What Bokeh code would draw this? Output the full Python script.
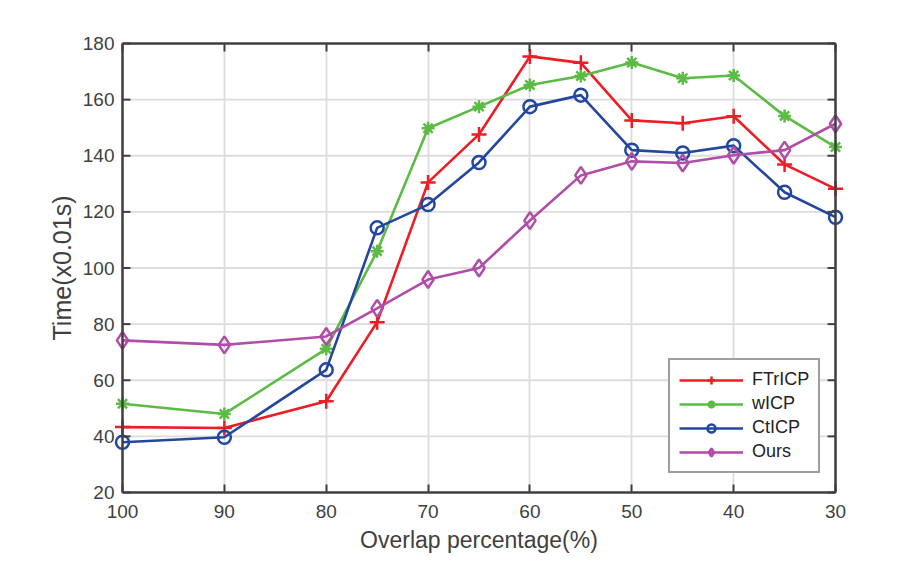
import math
from bokeh.plotting import figure
from bokeh.models import Range1d, FixedTicker, LinearAxis, Legend, LegendItem
from bokeh.embed import file_html
from bokeh.resources import INLINE

# ---- data ----
overlap = [100, 90, 80, 75, 70, 65, 60, 55, 50, 45, 40, 35, 30]
ftricp = [43.3, 43.0, 52.5, 80.7, 130.5, 147.6, 175.4, 173.1, 152.6, 151.6, 154.1, 136.9, 128.2]
wicp = [51.6, 48.0, 71.2, 106.0, 149.8, 157.5, 165.2, 168.4, 173.2, 167.6, 168.6, 154.2, 143.1]
cticp = [37.9, 39.7, 63.7, 114.3, 122.6, 137.6, 157.5, 161.6, 142.0, 141.0, 143.6, 127.0, 118.1]
ours = [74.2, 72.6, 75.6, 85.6, 95.9, 100.0, 116.9, 133.0, 138.0, 137.4, 140.2, 142.0, 151.4]
x_ticks = [30, 40, 50, 60, 70, 80, 90, 100]
y_ticks = [20, 40, 60, 80, 100, 120, 140, 160, 180]
series_names = ["FTrICP", "wICP", "CtICP", "Ours"]

X_MIN, X_MAX = 30, 100
Y_MIN, Y_MAX = 20, 180

FONT = "Liberation Sans"
AX = "#404040"
PAD_PX = 9                      # extra room so edge markers are not clipped
FRAME_W = 923 - 122 - 88
pad_units = PAD_PX * (X_MAX - X_MIN) / FRAME_W

p = figure(width=923, height=567, output_backend="svg", toolbar_location=None,
           x_range=Range1d(X_MAX + pad_units, X_MIN - pad_units),
           y_range=Range1d(Y_MIN, Y_MAX),
           min_border_left=122 - PAD_PX, min_border_right=88 - PAD_PX,
           min_border_top=43, min_border_bottom=75)
p.background_fill_color = "white"
p.border_fill_color = "white"
p.outline_line_color = None

xa = p.xaxis[0]
xa.bounds = (X_MIN, X_MAX)
xa.ticker = FixedTicker(ticks=x_ticks)
xa.axis_label = "Overlap percentage(%)"
xa.axis_label_text_font_size = "23px"
xa.major_label_standoff = 12
xa.axis_label_standoff = 6

ya = p.yaxis[0]
ya.ticker = FixedTicker(ticks=y_ticks)
ya.axis_label = "Time(x0.01s)"
ya.axis_label_text_font_size = "25px"
ya.major_label_standoff = -7
ya.axis_label_standoff = 4
ya.axis_line_color = None
ya.major_tick_line_color = None

for ax in (xa, ya):
    ax.minor_tick_line_color = None
    ax.major_label_text_font = FONT
    ax.major_label_text_font_size = "19px"
    ax.major_label_text_color = AX
    ax.axis_label_text_font = FONT
    ax.axis_label_text_font_style = "normal"
    ax.axis_label_text_color = AX

xa.axis_line_color = AX
xa.axis_line_width = 2.5
xa.major_tick_line_color = AX
xa.major_tick_line_width = 2
xa.major_tick_in = 8
xa.major_tick_out = 0

top = LinearAxis(ticker=FixedTicker(ticks=x_ticks), bounds=(X_MIN, X_MAX))
top.major_label_text_font_size = "0px"
top.major_label_text_color = None
top.axis_line_color = AX
top.axis_line_width = 2.5
top.major_tick_line_color = AX
top.major_tick_line_width = 2
top.major_tick_in = 8
top.major_tick_out = 0
top.minor_tick_line_color = None
top.major_label_standoff = 0
p.add_layout(top, "above")

# grid
p.xgrid.ticker = FixedTicker(ticks=x_ticks)
p.xgrid.grid_line_color = "#dcdcdc"
p.xgrid.grid_line_width = 1.8
p.ygrid.visible = False
p.segment(x0=[X_MIN] * len(y_ticks), x1=[X_MAX] * len(y_ticks), y0=y_ticks, y1=y_ticks,
          line_color="#dcdcdc", line_width=1.8, level="underlay")

# left / right box edges and their inward ticks
p.segment(x0=[X_MAX, X_MIN], x1=[X_MAX, X_MIN], y0=[Y_MIN, Y_MIN], y1=[Y_MAX, Y_MAX],
          line_color=AX, line_width=2.5, level="overlay")
p.ray(x=[X_MAX] * len(y_ticks), y=y_ticks, length=8, length_units="screen", angle=0,
      line_color=AX, line_width=2, level="overlay")
p.ray(x=[X_MIN] * len(y_ticks), y=y_ticks, length=8, length_units="screen", angle=math.pi,
      line_color=AX, line_width=2, level="overlay")

colors = ["#ee1c25", "#5bbb44", "#2347a0", "#b04da8"]
markers = ["cross", "asterisk", "circle", "diamond"]
sizes = [15, 13, 13, 17]
data = [ftricp, wicp, cticp, ours]

items = []
for name, ys, c, m, s in zip(series_names, data, colors, markers, sizes):
    lr = p.line(overlap, ys, line_color=c, line_width=2.6)
    sr = p.scatter(overlap, ys, marker=m, size=s, line_color=c, line_width=2.5,
                   fill_color=None)
    items.append(LegendItem(label=name, renderers=[lr, sr]))

legend = Legend(items=items, location=(555, 19))
legend.margin = 0
legend.padding = 9
legend.spacing = 3
legend.glyph_width = 64
legend.glyph_height = 20
legend.label_height = 20
legend.label_standoff = 9
legend.label_text_font = FONT
legend.label_text_font_size = "18px"
legend.label_text_color = "#222222"
legend.border_line_color = AX
legend.border_line_width = 2.5
legend.background_fill_color = "white"
legend.background_fill_alpha = 1.0
p.add_layout(legend)

open("out.html", "w").write(file_html(p, INLINE))
